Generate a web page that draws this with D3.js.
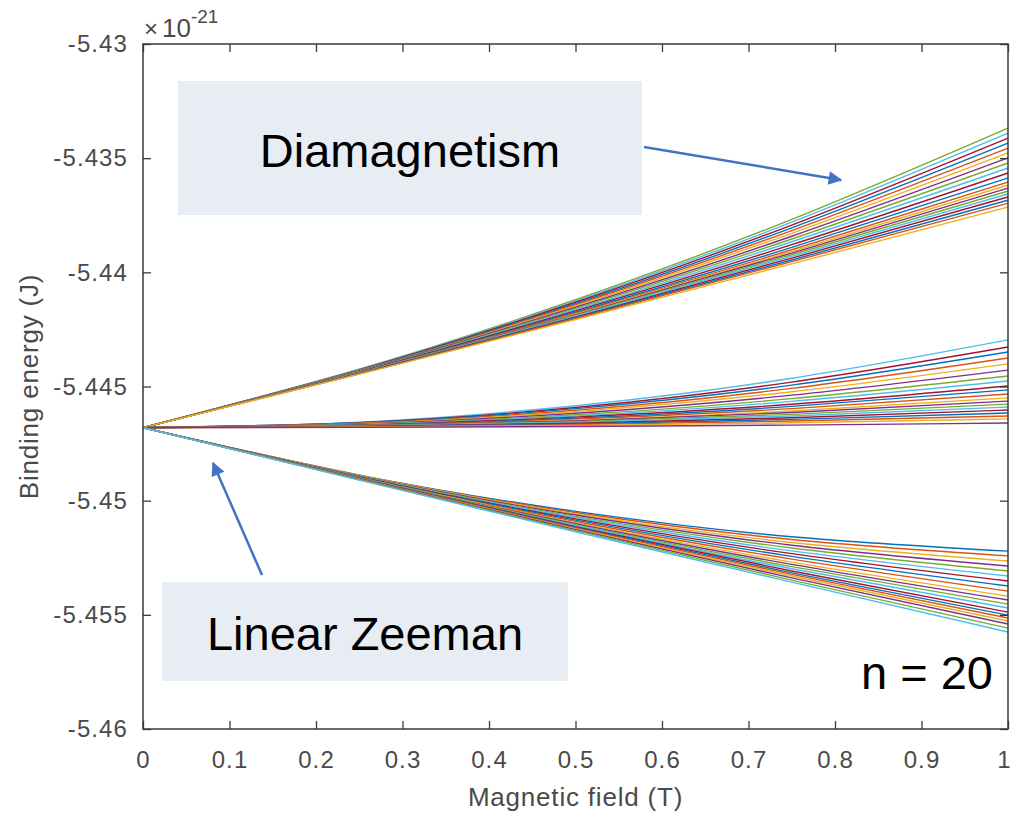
<!DOCTYPE html>
<html>
<head>
<meta charset="utf-8">
<script src="https://cdn.jsdelivr.net/npm/d3@7"></script>
<style>
  html, body { margin: 0; padding: 0; background: #fff; }
  svg text { font-family: "Liberation Sans", Arial, Helvetica, sans-serif; }
</style>
</head>
<body>
<div id="chart"></div>
<script>
// ---------------- data (energies in units of 1e-21 J) ----------------
const fieldT = [0, 0.25, 0.5, 0.75, 1];
const zeroFieldEnergy = -5.4468;

// each row: energy at B = 0.25, 0.5, 0.75, 1 T
const upperBranch = [
  [-5.44424, -5.44120, -5.43768, -5.43368],
  [-5.44425, -5.44126, -5.43780, -5.43390],
  [-5.44427, -5.44131, -5.43793, -5.43412],
  [-5.44428, -5.44137, -5.43805, -5.43434],
  [-5.44430, -5.44142, -5.43817, -5.43456],
  [-5.44431, -5.44147, -5.43829, -5.43477],
  [-5.44432, -5.44153, -5.43842, -5.43499],
  [-5.44434, -5.44158, -5.43854, -5.43521],
  [-5.44435, -5.44164, -5.43866, -5.43543],
  [-5.44436, -5.44169, -5.43879, -5.43565],
  [-5.44438, -5.44175, -5.43891, -5.43587],
  [-5.44439, -5.44179, -5.43901, -5.43605],
  [-5.44440, -5.44183, -5.43909, -5.43618],
  [-5.44441, -5.44186, -5.43916, -5.43631],
  [-5.44441, -5.44189, -5.43923, -5.43644],
  [-5.44442, -5.44192, -5.43930, -5.43657],
  [-5.44443, -5.44196, -5.43938, -5.43670],
  [-5.44444, -5.44199, -5.43946, -5.43684],
  [-5.44445, -5.44202, -5.43953, -5.43697],
  [-5.44446, -5.44207, -5.43963, -5.43714]
];
const middleBranch = [
  [-5.44656, -5.44584, -5.44464, -5.44296],
  [-5.44658, -5.44592, -5.44481, -5.44327],
  [-5.44659, -5.44597, -5.44494, -5.44349],
  [-5.44661, -5.44604, -5.44508, -5.44375],
  [-5.44663, -5.44610, -5.44523, -5.44401],
  [-5.44664, -5.44617, -5.44538, -5.44428],
  [-5.44666, -5.44624, -5.44553, -5.44454],
  [-5.44667, -5.44629, -5.44565, -5.44476],
  [-5.44669, -5.44634, -5.44578, -5.44498],
  [-5.44670, -5.44639, -5.44587, -5.44515],
  [-5.44671, -5.44643, -5.44597, -5.44533],
  [-5.44672, -5.44648, -5.44607, -5.44550],
  [-5.44673, -5.44651, -5.44614, -5.44564],
  [-5.44674, -5.44654, -5.44622, -5.44577],
  [-5.44674, -5.44657, -5.44629, -5.44590],
  [-5.44675, -5.44661, -5.44637, -5.44603],
  [-5.44676, -5.44664, -5.44644, -5.44616],
  [-5.44677, -5.44667, -5.44651, -5.44629],
  [-5.44678, -5.44671, -5.44659, -5.44642],
  [-5.44679, -5.44675, -5.44669, -5.44660]
];
const lowerBranch = [
  [-5.44888, -5.45047, -5.45158, -5.45221],
  [-5.44889, -5.45052, -5.45170, -5.45242],
  [-5.44890, -5.45058, -5.45183, -5.45264],
  [-5.44892, -5.45063, -5.45195, -5.45286],
  [-5.44893, -5.45069, -5.45207, -5.45308],
  [-5.44895, -5.45074, -5.45220, -5.45330],
  [-5.44896, -5.45080, -5.45232, -5.45352],
  [-5.44897, -5.45085, -5.45244, -5.45374],
  [-5.44899, -5.45091, -5.45256, -5.45396],
  [-5.44900, -5.45096, -5.45269, -5.45418],
  [-5.44901, -5.45101, -5.45279, -5.45435],
  [-5.44902, -5.45105, -5.45289, -5.45453],
  [-5.44903, -5.45109, -5.45298, -5.45470],
  [-5.44904, -5.45114, -5.45308, -5.45488],
  [-5.44905, -5.45117, -5.45316, -5.45501],
  [-5.44906, -5.45120, -5.45323, -5.45514],
  [-5.44907, -5.45124, -5.45330, -5.45527],
  [-5.44908, -5.45127, -5.45338, -5.45540],
  [-5.44909, -5.45131, -5.45348, -5.45558],
  [-5.44910, -5.45136, -5.45357, -5.45575]
];

const xTicks = [0, 0.1, 0.2, 0.3, 0.4, 0.5, 0.6, 0.7, 0.8, 0.9, 1];
const xTickLabels = ["0", "0.1", "0.2", "0.3", "0.4", "0.5", "0.6", "0.7", "0.8", "0.9", "1"];
const yTicks = [-5.46, -5.455, -5.45, -5.445, -5.44, -5.435, -5.43];
const yTickLabels = ["-5.46", "-5.455", "-5.45", "-5.445", "-5.44", "-5.435", "-5.43"];

const xLabel = "Magnetic field (T)";
const yLabel = "Binding energy (J)";
const annotations = ["Diamagnetism", "Linear Zeeman", "n = 20"];

// ---------------- layout ----------------
const W = 1012, H = 816;
const plot = { left: 143, right: 1008, top: 44, bottom: 729 };
const palette = ["#0072BD", "#D95319", "#EDB120", "#7E2F8E", "#77AC30", "#4DBEEE", "#A2142F"];
const axisColor = "#3a3a3a";
const arrowColor = "#4472C4";

const svg = d3.select("#chart").append("svg")
  .attr("width", W).attr("height", H)
  .attr("viewBox", `0 0 ${W} ${H}`);

const x = d3.scaleLinear().domain([0, 1]).range([plot.left, plot.right]);
const y = d3.scaleLinear().domain([-5.46, -5.43]).range([plot.bottom, plot.top]);

// ---------------- annotation boxes (behind lines) ----------------
svg.append("rect").attr("x", 178).attr("y", 81).attr("width", 464).attr("height", 134)
  .attr("fill", "#E8ECF3");
svg.append("rect").attr("x", 162).attr("y", 582).attr("width", 406).attr("height", 99)
  .attr("fill", "#E8ECF3");

// ---------------- lines ----------------
const lineGen = d3.line()
  .x(d => x(d[0]))
  .y(d => y(d[1]))
  .curve(d3.curveNatural);

const groups = [
  { rows: upperBranch, offset: 4 },
  { rows: middleBranch, offset: 5 },
  { rows: lowerBranch, offset: 0 }
];
const gLines = svg.append("g").attr("fill", "none").attr("stroke-width", 1.4);
groups.forEach(g => {
  g.rows.forEach((row, i) => {
    const pts = [[fieldT[0], zeroFieldEnergy]].concat(row.map((v, k) => [fieldT[k + 1], v]));
    gLines.append("path")
      .attr("d", lineGen(pts))
      .attr("stroke", palette[(g.offset + i) % palette.length]);
  });
});

// ---------------- axes ----------------
const tickLen = 8;
const tickFont = "24px";

function styleAxis(sel) {
  sel.select(".domain").remove();
  sel.selectAll(".tick line").attr("stroke", axisColor).attr("stroke-width", 1.3);
  sel.selectAll(".tick text").attr("fill", "#4a4a4a").style("font-size", tickFont)
    .style("letter-spacing", "1.1px");
}

const xAxisB = d3.axisBottom(x).tickValues(xTicks)
  .tickFormat((d, i) => xTickLabels[i]).tickSizeInner(-tickLen).tickSizeOuter(0).tickPadding(22);
const gxb = svg.append("g").attr("transform", `translate(0,${plot.bottom})`).call(xAxisB).call(styleAxis);
// keep the last label inside the picture
gxb.selectAll(".tick text").filter((d, i) => i === xTicks.length - 1).attr("dx", -4);

const xAxisT = d3.axisTop(x).tickValues(xTicks).tickFormat("").tickSizeInner(-tickLen).tickSizeOuter(0);
svg.append("g").attr("transform", `translate(0,${plot.top})`).call(xAxisT).call(styleAxis);

const yAxisL = d3.axisLeft(y).tickValues(yTicks)
  .tickFormat((d, i) => yTickLabels[i]).tickSizeInner(-tickLen).tickSizeOuter(0).tickPadding(15);
svg.append("g").attr("transform", `translate(${plot.left},0)`).call(yAxisL).call(styleAxis);

const yAxisR = d3.axisRight(y).tickValues(yTicks).tickFormat("").tickSizeInner(-tickLen).tickSizeOuter(0);
svg.append("g").attr("transform", `translate(${plot.right},0)`).call(yAxisR).call(styleAxis);

// box
svg.append("rect")
  .attr("x", plot.left).attr("y", plot.top)
  .attr("width", plot.right - plot.left).attr("height", plot.bottom - plot.top)
  .attr("fill", "none").attr("stroke", axisColor).attr("stroke-width", 1.5);

// exponent label
const expo = svg.append("text").attr("x", plot.left + 1).attr("y", 37)
  .attr("fill", "#4a4a4a").style("font-size", "26px");
expo.append("tspan").text("\u00D7").style("font-size", "24px");
expo.append("tspan").attr("dx", 4).text("10");
expo.append("tspan").attr("dy", -14).style("font-size", "19px").text("-21");

// axis labels
svg.append("text")
  .attr("x", (plot.left + plot.right) / 2 + 0).attr("y", 806)
  .attr("text-anchor", "middle").attr("fill", "#4a4a4a")
  .style("font-size", "26px").style("letter-spacing", "0.8px")
  .text(xLabel);

svg.append("text")
  .attr("transform", `translate(38,${(plot.top + plot.bottom) / 2}) rotate(-90)`)
  .attr("text-anchor", "middle").attr("fill", "#4a4a4a")
  .style("font-size", "26px").style("letter-spacing", "0.8px")
  .text(yLabel);

// annotation texts
svg.append("text").attr("x", 410).attr("y", 167).attr("text-anchor", "middle")
  .attr("fill", "#000").style("font-size", "47px").text(annotations[0]);
svg.append("text").attr("x", 365).attr("y", 650).attr("text-anchor", "middle")
  .attr("fill", "#000").style("font-size", "47px").text(annotations[1]);
svg.append("text").attr("x", 993).attr("y", 689).attr("text-anchor", "end")
  .attr("fill", "#000").style("font-size", "47px").text(annotations[2]);

// arrows
const defs = svg.append("defs");
defs.append("marker").attr("id", "arrowHead")
  .attr("viewBox", "0 0 10 10").attr("refX", 9).attr("refY", 5)
  .attr("markerWidth", 6).attr("markerHeight", 5.5)
  .attr("markerUnits", "strokeWidth").attr("orient", "auto")
  .append("path").attr("d", "M0,0 L10,5 L0,10 z").attr("fill", arrowColor);

svg.append("line").attr("x1", 644).attr("y1", 147).attr("x2", 841).attr("y2", 180)
  .attr("stroke", arrowColor).attr("stroke-width", 2.5).attr("marker-end", "url(#arrowHead)");
svg.append("line").attr("x1", 262).attr("y1", 575).attr("x2", 213).attr("y2", 463)
  .attr("stroke", arrowColor).attr("stroke-width", 2.5).attr("marker-end", "url(#arrowHead)");
</script>
</body>
</html>
